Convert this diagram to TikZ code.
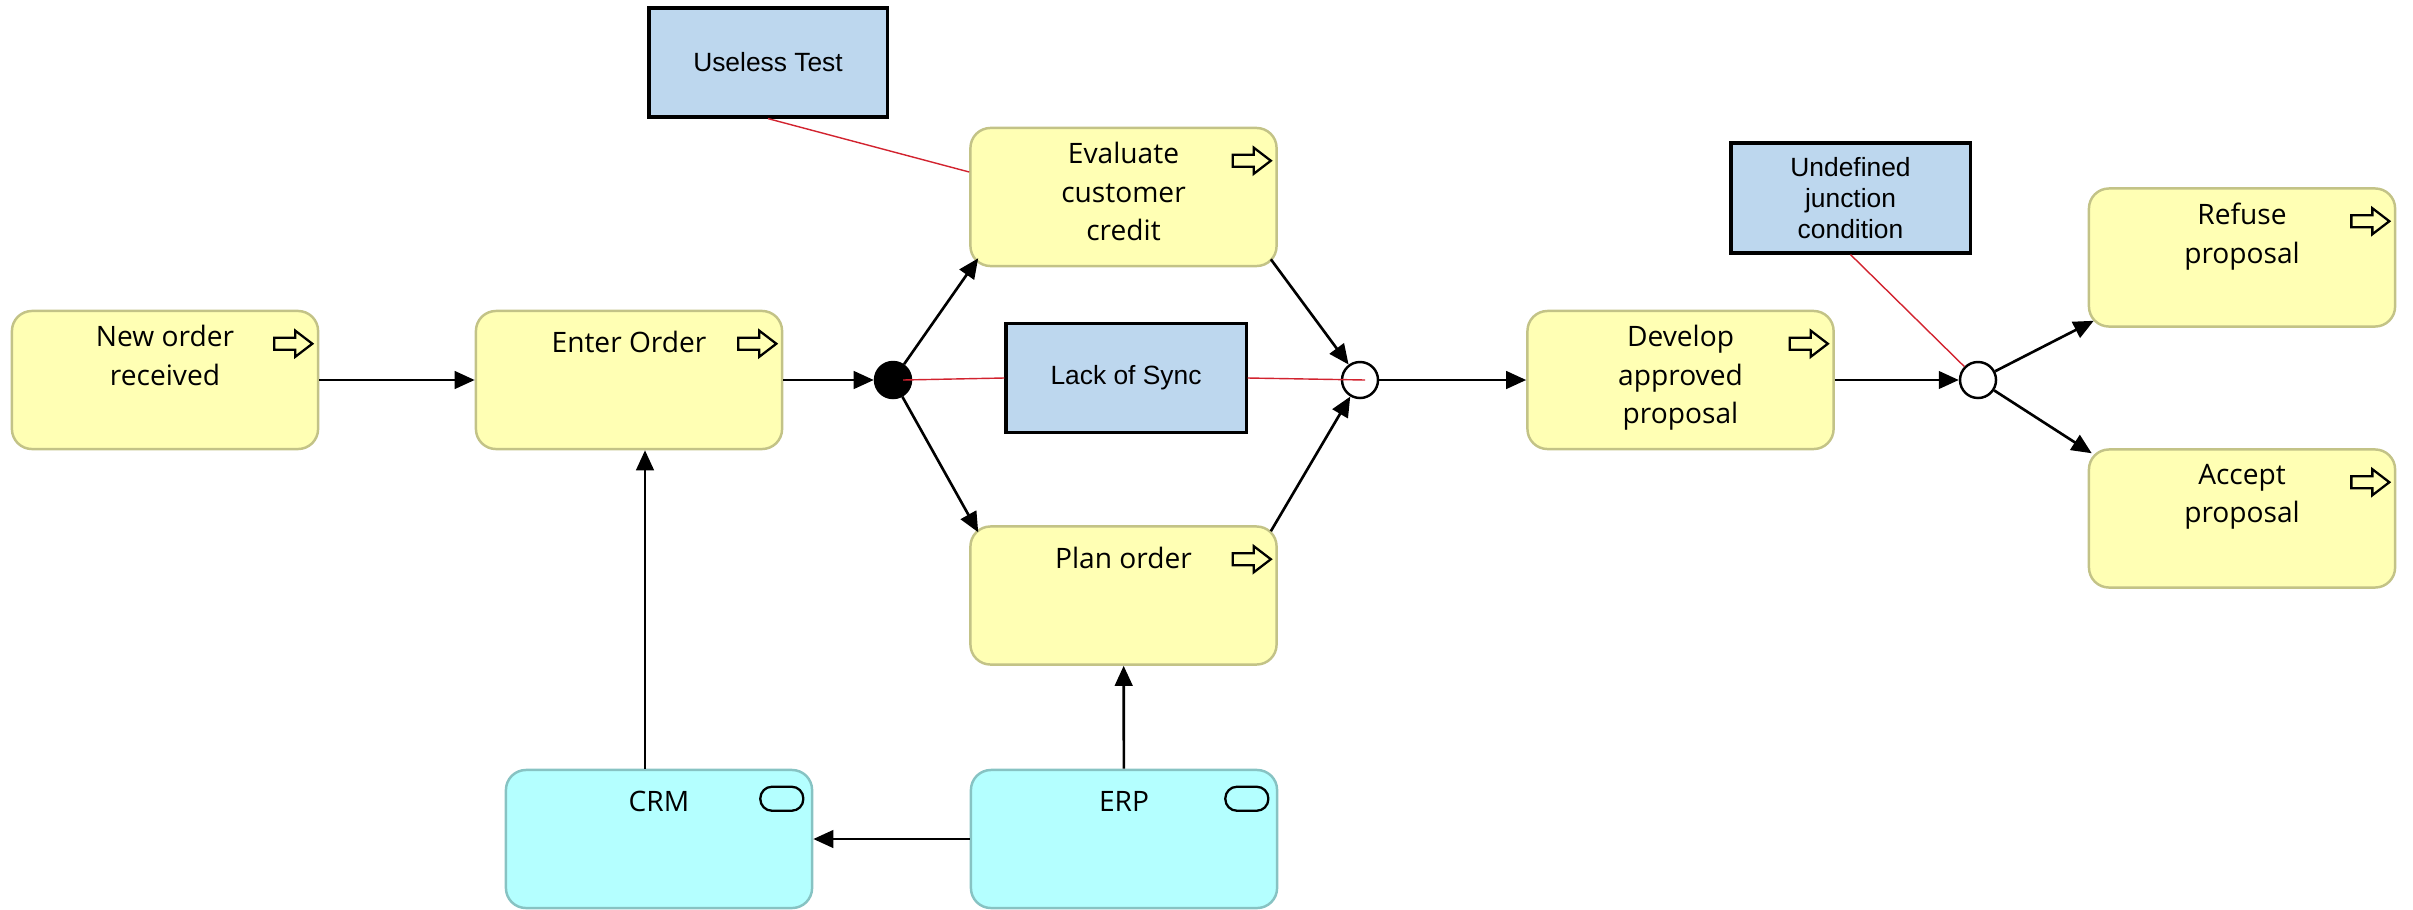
\documentclass[tikz,border=0pt]{standalone}
\usepackage{fontspec}
\setmainfont{Open Sans}
\newfontfamily\notefont{Liberation Sans}
\usetikzlibrary{positioning,arrows.meta}

\definecolor{taskfill}{HTML}{FFFFB4}
\definecolor{taskline}{HTML}{C3C387}
\definecolor{sysfill}{HTML}{B4FFFF}
\definecolor{sysline}{HTML}{87C3C3}
\definecolor{notefill}{HTML}{BDD7EE}
\definecolor{notered}{HTML}{D2232F}

\tikzset{
  task/.style={draw=taskline, fill=taskfill, rounded corners=5.7pt, line width=0.7pt,
    minimum width=3.06cm, minimum height=1.38cm, inner sep=0pt},
  system/.style={task, draw=sysline, fill=sysfill},
  tasktext/.style={font=\fontsize{8}{10.95}\selectfont, align=center, inner sep=0pt,
    execute at begin node=\strut},
  note/.style={draw=black, line width=0.9pt, fill=notefill, align=center, inner sep=0pt,
    font=\notefont\fontsize{7.5}{8.8}\selectfont},
  gate/.style={circle, draw=black, line width=0.7pt, fill=white, minimum size=0.36cm, inner sep=0pt},
  andgate/.style={gate, fill=black},
  flow/.style={-{Triangle[length=5.7pt,width=5pt]}, line width=0.75pt},
  remark/.style={draw=notered, line width=0.4pt},
  icon/.style={draw=black, line width=0.65pt}
}

% small symbols in the box corners
\newcommand{\taskicon}[1]{\draw[icon] ([shift={(-7,34)}]#1.north east) -- ++(-17,-13) -- ++(0,7)
  -- ++(-21,0) -- ++(0,12) -- ++(21,0) -- ++(0,7) -- cycle;}
\newcommand{\sysicon}[1]{\draw[icon, rounded corners=3.3pt] ([shift={(-53,18)}]#1.north east) rectangle ++(43,24);}

\begin{document}
\begin{tikzpicture}[x=0.01cm, y=-0.01cm]
  \useasboundingbox (0,0) rectangle (2413,909);

  % Activities
  \node[task] (neworder) at (165,380) {};
  \node[task] (enter) at (629,380) {};
  \node[task] (eval) at (1123.5,197) {};
  \node[task] (plan) at (1123.5,595.5) {};
  \node[task] (develop) at (1680.5,380) {};
  \node[task] (refuse) at (2242,257.5) {};
  \node[task] (accept) at (2242,518.5) {};

  \node[tasktext, below=4.3pt of neworder.north] (neworder-t) {New order\\received};
  \node[tasktext, below=4.3pt of enter.north] (enter-t) {Enter Order};
  \node[tasktext, below=4.3pt of eval.north] (eval-t) {Evaluate\\customer\\credit};
  \node[tasktext, below=4.3pt of plan.north] (plan-t) {Plan order};
  \node[tasktext, below=4.3pt of develop.north] (develop-t) {Develop\\approved\\proposal};
  \node[tasktext, below=4.3pt of refuse.north] (refuse-t) {Refuse\\proposal};
  \node[tasktext, below=4.3pt of accept.north] (accept-t) {Accept\\proposal};

  \foreach \t in {neworder,enter,eval,plan,develop,refuse,accept}
    {\taskicon{\t}}

  % Systems
  \node[system] (crm) at (659,839) {};
  \node[system] (erp) at (1124,839) {};
  \node[tasktext, below=4.3pt of crm.north] (crm-t) {CRM};
  \node[tasktext, below=4.3pt of erp.north] (erp-t) {ERP};
  \sysicon{crm}
  \sysicon{erp}

  % Junctions
  \node[andgate] (fork) at (893,380) {};
  \node[gate] (join) at (1360,380) {};
  \node[gate] (xor) at (1978,380) {};

  % Notes
  \node[note, minimum width=2.38cm, minimum height=1.09cm] (useless) at (768,62.5) {Useless Test};
  \node[note, minimum width=2.4cm, minimum height=1.09cm] (lack) at (1126,378) {Lack of Sync};
  \node[note, minimum width=2.39cm, minimum height=1.1cm] (undef) at (1850.5,198) {Undefined\\junction\\condition};

  % Flows
  \draw[flow] (neworder) -- (enter);
  \draw[flow] (enter) -- (fork);
  \draw[flow] (fork) -- ([shift={(9,-9)}]eval.south west);
  \draw[flow] (fork) -- ([shift={(9,7)}]plan.north west);
  \draw[flow] ([shift={(-7,-8)}]eval.south east) -- (join);
  \draw[flow] ([shift={(-7,6)}]plan.north east) -- (join);
  \draw[flow] (join) -- (develop);
  \draw[flow] (develop) -- (xor);
  \draw[flow] (xor) -- ([shift={(6,-7)}]refuse.south west);
  \draw[flow] (xor) -- ([shift={(4,5)}]accept.north west);
  \draw[flow] ([xshift=-0.14cm]crm.north) -- ([xshift=-0.14cm]crm.north |- enter.south);
  \draw[flow] (erp) -- (plan);
  \draw[flow] (erp) -- (crm);

  % Remarks
  \draw[remark] (useless.south) -- ([shift={(0,-25)}]eval.west);
  \draw[remark] ([xshift=0.1cm]fork.center) -- (lack.west);
  \draw[remark] (lack.east) -- ([xshift=0.05cm]join.center);
  \draw[remark] (undef.south) -- (xor);
\end{tikzpicture}
\end{document}
